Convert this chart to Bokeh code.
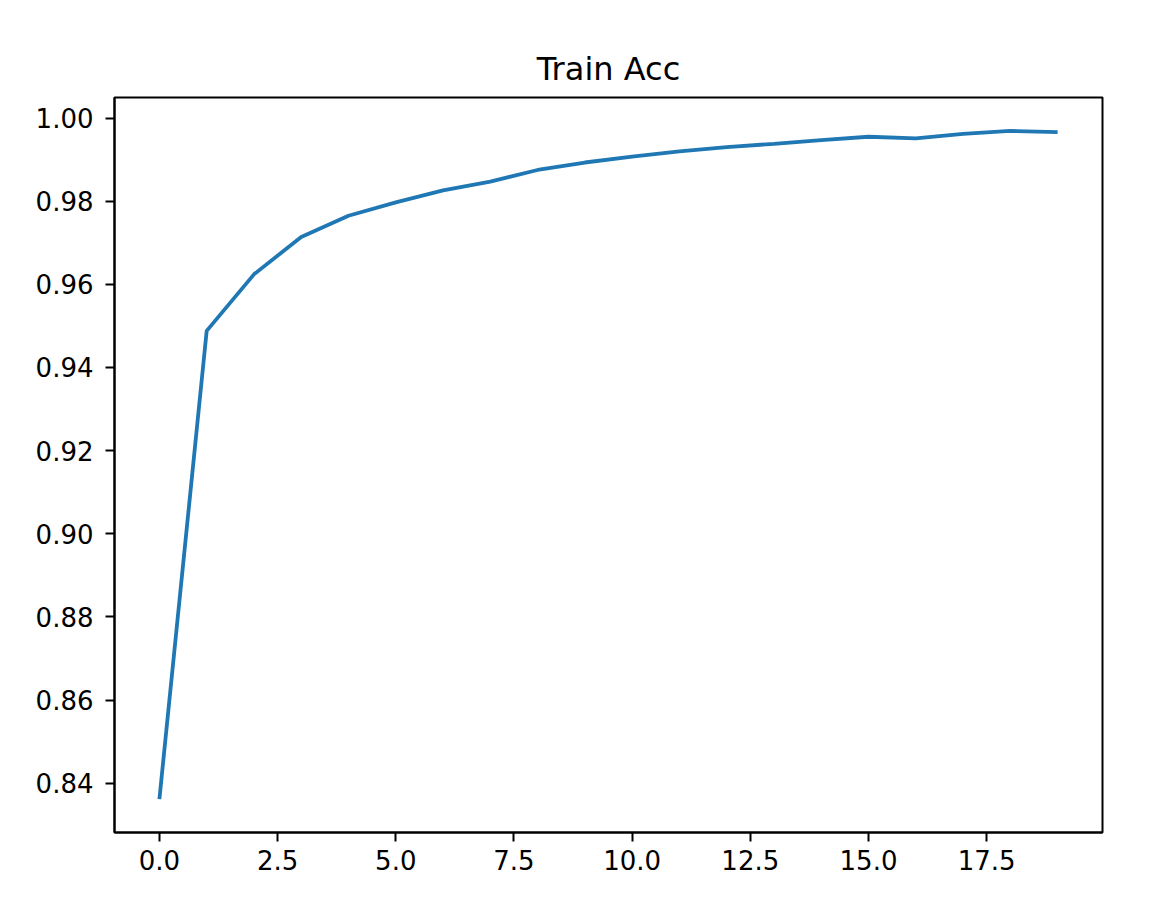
from bokeh.plotting import figure
from bokeh.embed import file_html
from bokeh.resources import INLINE
from bokeh.models import FixedTicker, NumeralTickFormatter, Range1d

epochs = list(range(20))
train_acc = [0.8362, 0.9488, 0.9624, 0.9714, 0.9765, 0.9797, 0.9826, 0.9847,
             0.9875, 0.9893, 0.9907, 0.9920, 0.9930, 0.9938, 0.9947, 0.9955,
             0.9951, 0.9962, 0.9969, 0.9966]
x_ticks = [0.0, 2.5, 5.0, 7.5, 10.0, 12.5, 15.0, 17.5]
y_ticks = [0.84, 0.86, 0.88, 0.90, 0.92, 0.94, 0.96, 0.98, 1.00]

xmin, xmax = min(epochs), max(epochs)
ymin, ymax = min(train_acc), max(train_acc)
xpad = (xmax - xmin) * 0.05
ypad = (ymax - ymin) * 0.05

p = figure(width=1161, height=892, output_backend="svg", toolbar_location=None,
           title="Train Acc",
           x_range=Range1d(xmin - xpad, xmax + xpad),
           y_range=Range1d(ymin - ypad, ymax + ypad),
           min_border_left=114, min_border_right=59, min_border_top=97, min_border_bottom=60)

p.line(epochs, train_acc, line_color="#1f77b4", line_width=3.8)

p.title.align = "center"
p.title.text_font = "DejaVu Sans"
p.title.text_font_size = "32px"
p.title.text_font_style = "normal"
p.title.text_color = "black"
p.title.standoff = 19

p.xgrid.visible = False
p.ygrid.visible = False
p.outline_line_color = "black"
p.outline_line_width = 2
p.outline_line_alpha = 1.0

for ax in (p.xaxis[0], p.yaxis[0]):
    ax.axis_line_color = "black"
    ax.axis_line_width = 2
    ax.major_tick_line_color = "black"
    ax.major_tick_line_width = 2
    ax.major_tick_out = 9
    ax.major_tick_in = 0
    ax.minor_tick_line_color = None
    ax.major_label_text_font = "DejaVu Sans"
    ax.major_label_text_font_size = "26px"
    ax.major_label_text_color = "black"

p.xaxis.major_label_standoff = 8
p.yaxis.major_label_standoff = 12

p.xaxis.ticker = FixedTicker(ticks=x_ticks)
p.xaxis.formatter = NumeralTickFormatter(format="0.0")
p.yaxis.ticker = FixedTicker(ticks=y_ticks)
p.yaxis.formatter = NumeralTickFormatter(format="0.00")

p.background_fill_color = "white"
p.border_fill_color = "white"

open("out.html", "w").write(file_html(p, INLINE))
